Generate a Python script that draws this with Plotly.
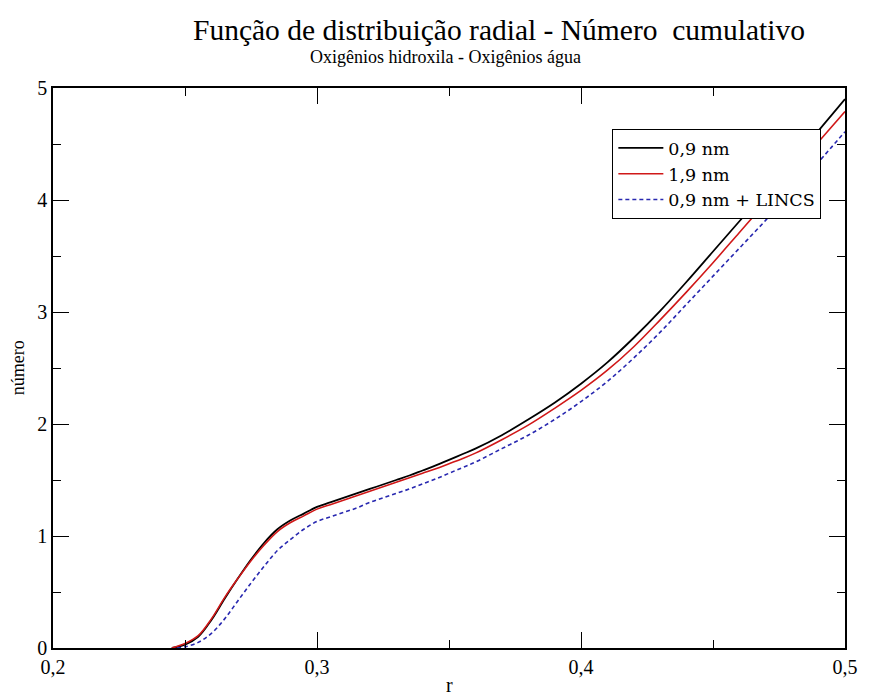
import plotly.graph_objects as go

# Radial distance r (nm) and cumulative coordination number for each run
r_09 = [0.245, 0.250, 0.255, 0.260, 0.265, 0.270, 0.275, 0.280, 0.285, 0.290,
        0.295, 0.300, 0.305, 0.310, 0.315, 0.320, 0.325, 0.330, 0.335, 0.340,
        0.345, 0.350, 0.355, 0.360, 0.370, 0.380, 0.390, 0.400, 0.410, 0.420,
        0.430, 0.440, 0.450, 0.460, 0.470, 0.480, 0.490, 0.500]
n_09 = [0.00, 0.03, 0.10, 0.25, 0.44, 0.62, 0.79, 0.94, 1.06, 1.14,
        1.20, 1.26, 1.30, 1.34, 1.38, 1.42, 1.46, 1.50, 1.54, 1.585,
        1.63, 1.68, 1.73, 1.78, 1.90, 2.04, 2.19, 2.36, 2.55, 2.77,
        3.01, 3.27, 3.54, 3.81, 4.08, 4.35, 4.62, 4.90]

r_19 = r_09
n_19 = [0.00, 0.04, 0.11, 0.26, 0.45, 0.62, 0.78, 0.92, 1.04, 1.12,
        1.18, 1.24, 1.28, 1.32, 1.36, 1.40, 1.44, 1.48, 1.52, 1.56,
        1.60, 1.645, 1.69, 1.74, 1.86, 1.99, 2.14, 2.30, 2.48, 2.69,
        2.93, 3.18, 3.44, 3.71, 3.98, 4.25, 4.52, 4.79]

r_lincs = [0.247, 0.250, 0.255, 0.260, 0.265, 0.270, 0.275, 0.280, 0.285, 0.290,
           0.295, 0.300, 0.305, 0.310, 0.315, 0.320, 0.325, 0.330, 0.335, 0.340,
           0.345, 0.350, 0.355, 0.360, 0.370, 0.380, 0.390, 0.400, 0.410, 0.420,
           0.430, 0.440, 0.450, 0.460, 0.470, 0.480, 0.490, 0.500]
n_lincs = [0.00, 0.01, 0.05, 0.13, 0.26, 0.42, 0.58, 0.73, 0.87, 0.97,
           1.06, 1.13, 1.17, 1.21, 1.25, 1.30, 1.34, 1.38, 1.42, 1.465,
           1.51, 1.56, 1.61, 1.66, 1.78, 1.90, 2.04, 2.20, 2.38, 2.59,
           2.82, 3.07, 3.32, 3.57, 3.82, 4.08, 4.34, 4.61]

series_names = ["0,9 nm", "1,9 nm", "0,9 nm + LINCS"]
x_ticks = [0.2, 0.3, 0.4, 0.5]
y_ticks = [0, 1, 2, 3, 4, 5]

FONT = "Liberation Serif"
LEGEND_FONT = "DejaVu Serif"

fig = go.Figure()
fig.add_trace(go.Scatter(x=r_09, y=n_09, mode="lines", name=series_names[0],
                         line=dict(color="#000000", width=1.8, shape="spline")))
fig.add_trace(go.Scatter(x=r_19, y=n_19, mode="lines", name=series_names[1],
                         line=dict(color="#d01818", width=1.6, shape="spline")))
fig.add_trace(go.Scatter(x=r_lincs, y=n_lincs, mode="lines", name=series_names[2],
                         line=dict(color="#2828b0", width=1.6, dash="4px,3px",
                                   shape="spline")))

axis_common = dict(
    showline=True, linecolor="black", linewidth=1.5, mirror="allticks",
    ticks="inside", ticklen=16, tickwidth=1.3, tickcolor="black",
    showgrid=False, zeroline=False,
    tickfont=dict(family=FONT, size=20, color="black"),
)

fig.update_xaxes(range=[0.2, 0.5], tickvals=x_ticks, tickformat=".1f",
                 minor=dict(ticks="inside", ticklen=8, tickwidth=1.3,
                            tickcolor="black", dtick=0.05, showgrid=False),
                 **axis_common)
fig.update_yaxes(range=[0, 5], tickvals=y_ticks, tickformat="d",
                 minor=dict(ticks="inside", ticklen=8, tickwidth=1.3,
                            tickcolor="black", dtick=0.5, showgrid=False),
                 **axis_common)

fig.update_layout(
    width=870, height=695,
    margin=dict(l=53, r=17, t=88, b=47),
    paper_bgcolor="white", plot_bgcolor="white",
    separators=", ",
    font=dict(family=FONT, color="black"),
    legend=dict(x=0.706, y=0.927, xanchor="left", yanchor="top",
                bgcolor="white", bordercolor="black", borderwidth=1.2,
                font=dict(family=LEGEND_FONT, size=17.5, color="black"),
                tracegroupgap=0, itemwidth=45),
    annotations=[
        dict(text="Função de distribuição radial - Número\u00a0 cumulativo",
             xref="paper", yref="paper", x=0.563, y=1.1036,
             xanchor="center", yanchor="middle", showarrow=False,
             font=dict(family=FONT, size=29.5, color="black")),
        dict(text="Oxigênios hidroxila - Oxigênios água",
             xref="paper", yref="paper", x=0.496, y=1.0554,
             xanchor="center", yanchor="middle", showarrow=False,
             font=dict(family=FONT, size=18, color="black")),
        dict(text="número", textangle=-90,
             xref="paper", yref="paper", x=-0.044, y=0.5,
             xanchor="center", yanchor="middle", showarrow=False,
             font=dict(family=FONT, size=18, color="black")),
        dict(text="r",
             xref="paper", yref="paper", x=0.5, y=-0.066,
             xanchor="center", yanchor="middle", showarrow=False,
             font=dict(family=FONT, size=20, color="black")),
    ],
)

fig.write_html("out.html")
